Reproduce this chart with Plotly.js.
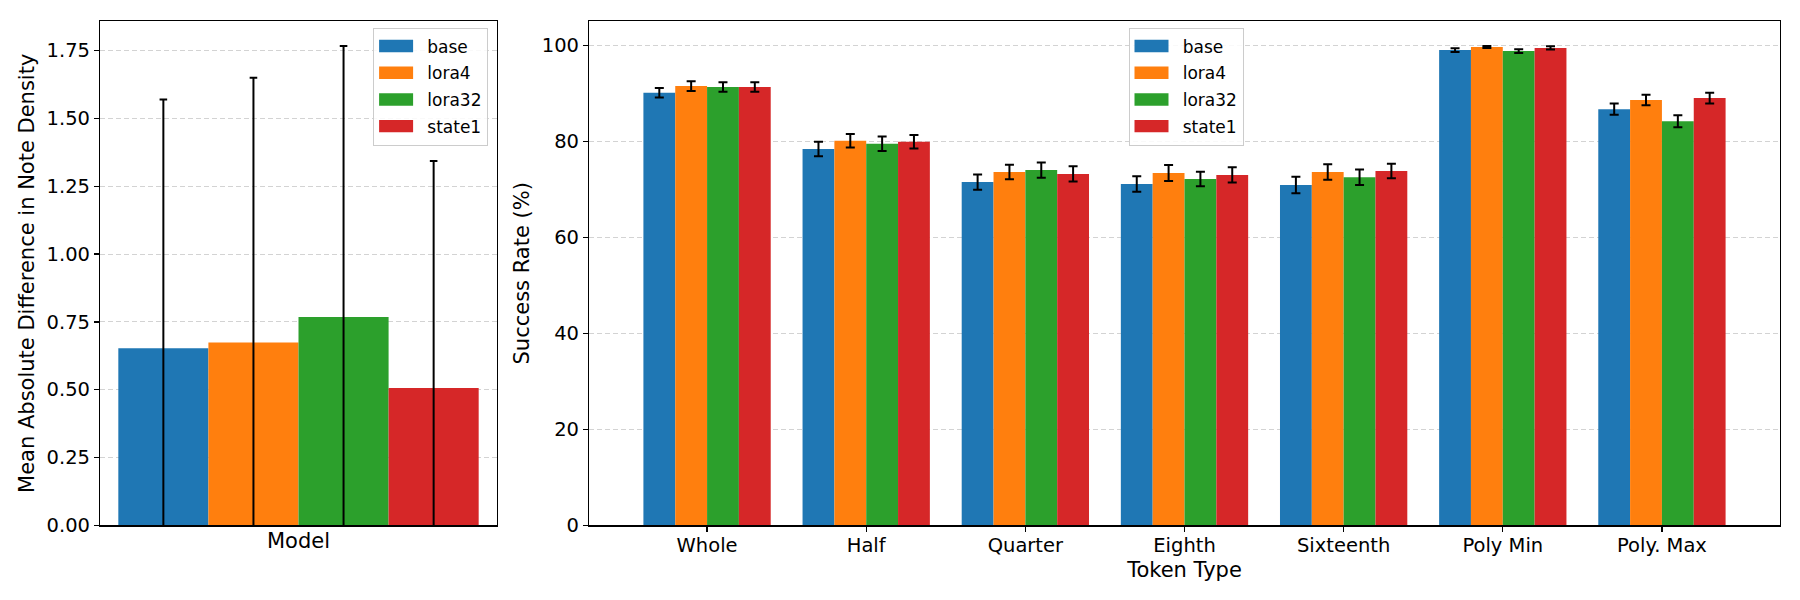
<!DOCTYPE html>
<html>
<head>
<meta charset="utf-8">
<script src="https://cdn.plot.ly/plotly-3.0.1.min.js"></script>
<style>
  html, body { margin: 0; padding: 0; background: #ffffff; }
  #chart { width: 1800px; height: 600px; }
</style>
</head>
<body>
<div id="chart"></div>
<script>
// ---------- data ----------
const models = ['base', 'lora4', 'lora32', 'state1'];
const modelColors = ['#1f77b4', '#ff7f0e', '#2ca02c', '#d62728'];

// Left panel: mean absolute difference in note density
const densityCategory = ['Model'];
const densityMean = [0.653, 0.674, 0.768, 0.506];
const densityErr = [0.917, 0.976, 0.999, 0.837];

// Right panel: success rate by token type
const tokenTypes = ['Whole', 'Half', 'Quarter', 'Eighth', 'Sixteenth', 'Poly Min', 'Poly. Max'];
const baseRate   = [90.1, 78.4, 71.5, 71.1, 70.9, 99.0, 86.7];
const lora4Rate  = [91.5, 80.1, 73.6, 73.4, 73.6, 99.65, 88.6];
const lora32Rate = [91.3, 79.5, 74.0, 72.15, 72.5, 98.8, 84.2];
const state1Rate = [91.3, 79.9, 73.2, 73.0, 73.8, 99.45, 89.0];
const baseErr   = [1.0, 1.5, 1.6, 1.6, 1.7, 0.4, 1.18];
const lora4Err  = [1.0, 1.4, 1.5, 1.65, 1.6, 0.2, 1.08];
const lora32Err = [1.0, 1.5, 1.6, 1.5, 1.6, 0.4, 1.25];
const state1Err = [1.0, 1.4, 1.6, 1.6, 1.5, 0.35, 1.12];

const rateSeries = [baseRate, lora4Rate, lora32Rate, state1Rate];
const rateErrors = [baseErr, lora4Err, lora32Err, state1Err];

// ---------- traces ----------
const FONT = 'DejaVu Sans, Verdana, sans-serif';
const traces = [];
models.forEach((m, i) => {
  traces.push({
    type: 'bar',
    name: m,
    x: densityCategory,
    y: [densityMean[i]],
    xaxis: 'x', yaxis: 'y',
    marker: { color: modelColors[i], line: { width: 0 } },
    error_y: { type: 'data', array: [densityErr[i]], visible: true,
               color: '#000000', thickness: 2, width: 3.8 },
    legend: 'legend',
    legendgroup: 'L' + m,
    hoverinfo: 'skip'
  });
});
models.forEach((m, i) => {
  traces.push({
    type: 'bar',
    name: m,
    x: tokenTypes,
    y: rateSeries[i],
    xaxis: 'x2', yaxis: 'y2',
    marker: { color: modelColors[i], line: { width: 0 } },
    error_y: { type: 'data', array: rateErrors[i], visible: true,
               color: '#000000', thickness: 2, width: 4.5 },
    legend: 'legend2',
    legendgroup: 'R' + m,
    hoverinfo: 'skip'
  });
});

// ---------- layout ----------
const W = 1800, H = 600;
const axisLine = { showline: true, linecolor: '#000000', linewidth: 1.4, mirror: true };
const gridStyle = { showgrid: true, gridcolor: '#d3d3d3', gridwidth: 1, griddash: '5px,3px' };
const tickFont = { family: FONT, size: 19.5, color: '#000000' };
const titleFont = { family: FONT, size: 21, color: '#000000' };
const legendBase = {
  font: { family: FONT, size: 17, color: '#000000' },
  bgcolor: 'rgba(255,255,255,0.85)',
  bordercolor: '#cccccc',
  borderwidth: 1,
  itemwidth: 43,
  tracegroupgap: 1.6,
  traceorder: 'grouped',
  yanchor: 'top',
  xref: 'paper', yref: 'paper'
};

const layout = {
  width: W, height: H,
  margin: { l: 0, r: 0, t: 0, b: 0 },
  paper_bgcolor: '#ffffff',
  plot_bgcolor: '#ffffff',
  font: { family: FONT, color: '#000000' },
  barmode: 'group',
  bargap: 0.2,
  bargroupgap: 0,
  showlegend: true,
  xaxis: Object.assign({}, axisLine, {
    domain: [100.3 / W, 496.7 / W],
    type: 'category',
    range: [-0.44, 0.44],
    showticklabels: false,
    ticks: '',
    showgrid: false,
    zeroline: false,
    fixedrange: true,
    title: { text: 'Model', font: titleFont, standoff: 7 },
    automargin: false
  }),
  yaxis: Object.assign({}, axisLine, gridStyle, {
    domain: [1 - 525.3 / H, 1 - 21.3 / H],
    anchor: 'x',
    range: [0, 1.858],
    tickmode: 'linear', tick0: 0, dtick: 0.25,
    tickformat: '.2f',
    ticks: 'outside', ticklen: 5, tickwidth: 1.3, tickcolor: '#000000',
    tickfont: tickFont,
    zeroline: false,
    title: { text: 'Mean Absolute Difference in Note Density', font: titleFont, standoff: 6 },
    automargin: false
  }),
  xaxis2: Object.assign({}, axisLine, {
    domain: [589.3 / W, 1779.7 / W],
    anchor: 'y2',
    type: 'category',
    range: [-0.74, 6.74],
    ticks: 'outside', ticklen: 5, tickwidth: 1.3, tickcolor: '#000000',
    tickfont: tickFont,
    ticklabelstandoff: -3,
    showgrid: false,
    zeroline: false,
    title: { text: 'Token Type', font: titleFont, standoff: 6 },
    automargin: false
  }),
  yaxis2: Object.assign({}, axisLine, gridStyle, {
    domain: [1 - 525.3 / H, 1 - 21.3 / H],
    anchor: 'x2',
    range: [0, 105],
    tickmode: 'linear', tick0: 0, dtick: 20,
    ticks: 'outside', ticklen: 5, tickwidth: 1.3, tickcolor: '#000000',
    tickfont: tickFont,
    zeroline: false,
    title: { text: 'Success Rate (%)', font: titleFont, standoff: 6 },
    automargin: false
  }),
  legend: Object.assign({}, legendBase, {
    x: 488.3 / W, xanchor: 'right',
    y: 1 - 27.5 / H
  }),
  legend2: Object.assign({}, legendBase, {
    x: 1128.7 / W, xanchor: 'left',
    y: 1 - 27.5 / H
  })
};

Plotly.newPlot('chart', traces, layout, { staticPlot: true, displayModeBar: false }).then(gd => {
  // widen legend patches to matplotlib-like rectangles
  gd.querySelectorAll('.legendpoints path').forEach(p => {
    p.setAttribute('d', 'M12.3,6.2H-21.7V-6.2H12.3Z');
  });
});
</script>
</body>
</html>
